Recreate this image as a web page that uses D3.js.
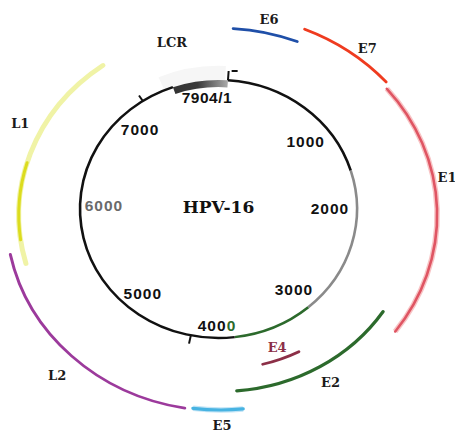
<!DOCTYPE html>
<html><head><meta charset="utf-8">
<script src="https://cdn.jsdelivr.net/npm/d3@7"></script>
<style>body{margin:0;background:#fff;overflow:hidden}</style>
</head><body><svg id="c" width="455" height="432"></svg>
<script>
// ---------- data ----------
const genomeName = "HPV-16";
const genomeLength = 7904;
const originLabel = "7904/1";
const geneNames  = ["E6", "E7", "E1", "E2", "E4", "E5", "L2", "L1"];
const geneStarts = [75, 490, 1100, 2705, 3350, 3822, 4165, 5592];
const geneEnds   = [479, 1065, 2773, 3849, 3638, 4117, 5673, 7120];
const lcrName = "LCR";
const lcrStart = 7482, lcrEnd = 86;
const tickValues = [1000, 2000, 3000, 4000, 5000, 6000, 7000];
const tickLabels = ["1000", "2000", "3000", "4000", "5000", "6000", "7000"];
const markerPositions = [86, 7177, 4205];

// ---------- layout / style ----------
const inner = {cx: 218.5, cy: 209, rx: 138.5, ry: 129};
const outer = {cx: 221, cy: 215, rx: 214, ry: 195};
const geneRadius = {E6: 0.958, E7: 1.03, E1: 1.01, E2: 0.905, E4: 0.79, E5: 1.0, L2: 1.005, L1: 0.945};
const geneColor  = {E6: "#1f4fa8", E7: "#ef3b1f", E1: "#df5563", E2: "#2c6a2c", E4: "#8c2f47", E5: "#47b3e2", L2: "#9c3a9c", L1: "#f0f3a6"};
const geneWidth  = {E6: 3, E7: 3, E1: 2.6, E2: 3.4, E4: 3, E5: 3.5, L2: 3, L1: 5};
const geneLabelAt = {E6: [276, 1.03], E7: [848, 1.095], E1: [1746, 1.074], E2: [3276, 1.0], E4: [3487, 0.726], E5: [3946, 1.077], L2: [4897, 1.122], L1: [6514, 1.05]};
const lcrLabelAt = [7586, 0.916];
const tickLabelAt = [[1102, 0.82], [1963, 0.805], [3052, 0.83], [3967, 0.9], [4830, 0.85], [5974, 0.828], [6973, 0.84]];
const originLabelAt = [7783, 0.87];
// inner backbone segments: [start, end, colour]
const backbone = [[86, 1597, "#111"], [1597, 3065, "#8a8a8a"], [3065, 3805, "#2c6a2c"], [3805, 7482, "#111"]];
const l1Strong = [5757, 6291];
const markerLen = [10, 7, 9];

// ---------- drawing ----------
const svg = d3.select("#c");
const angle = d3.scaleLinear().domain([0, genomeLength]).range([0, 2 * Math.PI]);

function ring(g) {
  return svg.append("g").attr("transform", `translate(${g.cx},${g.cy}) scale(1,${g.ry / g.rx})`);
}
function arcPath(r, s, e) {
  if (e < s) e += genomeLength;
  const p = d3.path();
  p.arc(0, 0, r, angle(s) - Math.PI / 2, angle(e) - Math.PI / 2, false);
  return p.toString();
}
function pt(g, pos, f) {
  const a = angle(pos);
  return [g.cx + g.rx * f * Math.sin(a), g.cy - g.ry * f * Math.cos(a)];
}

const defs = svg.append("defs");
const grad = defs.append("linearGradient").attr("id", "lcrGrad").attr("x1", 0).attr("x2", 1).attr("y1", 0).attr("y2", 0);
grad.append("stop").attr("offset", 0).attr("stop-color", "#333");
grad.append("stop").attr("offset", 0.45).attr("stop-color", "#3a3a3a");
grad.append("stop").attr("offset", 0.75).attr("stop-color", "#777");
grad.append("stop").attr("offset", 1).attr("stop-color", "#aaa");

// inner ring
const gi = ring(inner);
gi.append("path")
  .attr("d", d3.arc().innerRadius(inner.rx * 1.0).outerRadius(inner.rx * 1.11)
    .startAngle(angle(7400)).endAngle(angle(genomeLength + 60))())
  .attr("fill", "#f6f6f6");
gi.selectAll("path.bb").data(backbone).join("path").attr("class", "bb")
  .attr("d", d => arcPath(inner.rx, d[0], d[1]))
  .attr("fill", "none").attr("stroke", d => d[2]).attr("stroke-width", 2.6);
gi.append("path")
  .attr("d", d3.arc().innerRadius(inner.rx * 0.945).outerRadius(inner.rx * 1.0)
    .startAngle(angle(lcrStart)).endAngle(angle(genomeLength + lcrEnd))())
  .attr("fill", "url(#lcrGrad)");

// markers (small ticks on backbone)
markerPositions.forEach((m, i) => {
  const p0 = pt(inner, m, 1.0);
  const len = markerLen[i] / inner.rx;
  const p1 = pt(inner, m, 1.0 + len);
  let d = `M${p0[0]},${p0[1]}L${p1[0]},${p1[1]}`;
  if (i === 0) d += `M${p1[0] + 3},${p1[1]}L${p1[0] + 9},${p1[1]}`;
  svg.append("path").attr("d", d).attr("stroke", "#111").attr("stroke-width", 2).attr("fill", "none");
});

// outer gene arcs
const go = ring(outer);
const genes = geneNames.map((n, i) => ({name: n, start: geneStarts[i], end: geneEnds[i]}));
go.append("path").attr("d", arcPath(outer.rx * geneRadius.E1, geneStarts[2], geneEnds[2]))
  .attr("fill", "none").attr("stroke", "#f8c4c5").attr("stroke-width", 5.5);
go.append("path").attr("d", arcPath(outer.rx * geneRadius.E5, geneStarts[5], geneEnds[5]))
  .attr("fill", "none").attr("stroke", "#c4e5f6").attr("stroke-width", 6);
go.selectAll("path.gene").data(genes).join("path").attr("class", "gene")
  .attr("d", d => arcPath(outer.rx * geneRadius[d.name], d.start, d.end))
  .attr("fill", "none").attr("stroke", d => geneColor[d.name])
  .attr("stroke-width", d => geneWidth[d.name]).attr("stroke-linecap", "round");
go.append("path").attr("d", arcPath(outer.rx * geneRadius.L1, l1Strong[0], l1Strong[1]))
  .attr("fill", "none").attr("stroke", "#dcdc1e").attr("stroke-width", 3).attr("stroke-linecap", "round");

// gene labels
const geneFont = "'DejaVu Serif', serif";
genes.forEach(d => {
  const [x, y] = pt(outer, geneLabelAt[d.name][0], geneLabelAt[d.name][1]);
  svg.append("text").attr("x", x).attr("y", y).attr("dy", "0.36em")
    .attr("text-anchor", "middle").attr("font-family", geneFont).attr("font-size", 13)
    .attr("font-weight", "bold")
    .attr("fill", d.name === "E4" ? "#8c2f47" : "#1a1a1a").text(d.name);
});
{
  const [x, y] = pt(outer, lcrLabelAt[0], lcrLabelAt[1]);
  svg.append("text").attr("x", x).attr("y", y).attr("dy", "0.36em")
    .attr("text-anchor", "middle").attr("font-family", geneFont).attr("font-size", 13)
    .attr("font-weight", "bold").attr("fill", "#1a1a1a").text(lcrName);
}

// position labels
const numFont = "'Liberation Sans', Arial, sans-serif";
tickValues.forEach((v, i) => {
  const [x, y] = pt(inner, tickLabelAt[i][0], tickLabelAt[i][1]);
  const t = svg.append("text").attr("x", x).attr("y", y).attr("dy", "0.36em")
    .attr("text-anchor", "middle").attr("font-family", numFont).attr("font-size", 15.5)
    .attr("font-weight", "bold").attr("letter-spacing", 1)
    .attr("fill", v === 6000 ? "#6a6a6a" : "#111");
  if (v === 4000) {
    t.append("tspan").text(tickLabels[i].slice(0, 3));
    t.append("tspan").attr("fill", "#2c6a2c").text(tickLabels[i].slice(3));
  } else t.text(tickLabels[i]);
});
{
  const [x, y] = pt(inner, originLabelAt[0], originLabelAt[1]);
  svg.append("text").attr("x", x).attr("y", y).attr("dy", "0.36em")
    .attr("text-anchor", "middle").attr("font-family", numFont).attr("font-size", 15.5)
    .attr("font-weight", "bold").attr("letter-spacing", 0.5).attr("fill", "#111").text(originLabel);
}
svg.append("text").attr("x", inner.cx).attr("y", inner.cy - 2).attr("dy", "0.36em")
  .attr("text-anchor", "middle").attr("font-family", geneFont).attr("font-size", 17)
  .attr("font-weight", "bold").attr("fill", "#111").text(genomeName);
</script>
</body></html>
